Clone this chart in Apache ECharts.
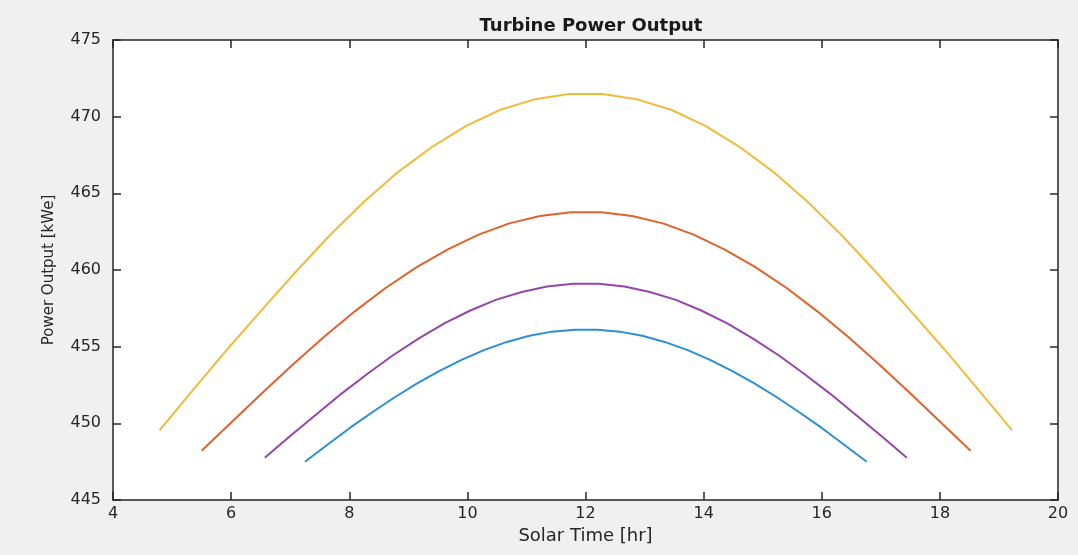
<!DOCTYPE html>
<html>
<head>
<meta charset="utf-8">
<script src="https://cdn.jsdelivr.net/npm/echarts@6/dist/echarts.min.js"></script>
<style>
html,body{margin:0;padding:0;background:#f0f0f0;}
#chart{width:1078px;height:555px;}
</style>
</head>
<body>
<div id="chart"></div>
<script>
// Solar time [hr] and power output [kWe], one pair of arrays per curve
var yellowX = [4.79,5.37,5.94,6.52,7.10,7.68,8.25,8.83,9.41,9.98,10.56,11.14,11.72,12.29,12.87,13.45,14.03,14.60,15.18,15.76,16.33,16.91,17.49,18.07,18.64,19.22];
var yellowY = [449.56,452.25,454.85,457.40,459.90,462.30,464.45,466.40,468.05,469.40,470.45,471.13,471.48,471.48,471.13,470.45,469.40,468.05,466.40,464.45,462.30,459.90,457.40,454.85,452.25,449.56];

var orangeX = [5.50,6.02,6.54,7.06,7.58,8.10,8.62,9.15,9.67,10.19,10.71,11.23,11.75,12.27,12.79,13.31,13.83,14.35,14.87,15.40,15.92,16.44,16.96,17.48,18.00,18.52];
var orangeY = [448.21,450.12,452.03,453.88,455.66,457.32,458.84,460.20,461.35,462.31,463.04,463.52,463.77,463.77,463.52,463.04,462.31,461.35,460.20,458.84,457.32,455.66,453.88,452.03,450.12,448.21];

var purpleX = [6.57,7.00,7.44,7.87,8.31,8.74,9.18,9.61,10.05,10.48,10.92,11.35,11.79,12.22,12.66,13.09,13.53,13.96,14.40,14.83,15.27,15.70,16.14,16.57,17.01,17.44];
var purpleY = [447.75,449.18,450.58,451.94,453.23,454.44,455.54,456.52,457.36,458.05,458.57,458.93,459.11,459.11,458.93,458.57,458.05,457.36,456.52,455.54,454.44,453.23,451.94,450.58,449.18,447.75];

var blueX = [7.25,7.63,8.01,8.39,8.77,9.15,9.53,9.91,10.29,10.67,11.05,11.43,11.82,12.20,12.58,12.96,13.34,13.72,14.10,14.48,14.86,15.24,15.62,16.00,16.38,16.76];
var blueY = [447.49,448.60,449.70,450.72,451.70,452.60,453.42,454.16,454.79,455.31,455.71,455.98,456.11,456.11,455.98,455.71,455.31,454.79,454.16,453.42,452.60,451.70,450.72,449.70,448.60,447.49];

var titleText = 'Turbine Power Output';
var xName = 'Solar Time [hr]';
var yName = 'Power Output [kWe]';

function pairs(xs, ys){ return xs.map(function(x,i){ return [x, ys[i]]; }); }

var FONT = 'DejaVu Sans';
var AX = '#262626';

var chart = echarts.init(document.getElementById('chart'), null, {renderer:'canvas'});
var lineSeries = function(name, xs, ys, color){
  return {
    name: name, type: 'line', data: pairs(xs, ys), showSymbol: false, symbol: 'none',
    smooth: false, lineStyle: {color: color, width: 2}, itemStyle: {color: color},
    xAxisIndex: 0, yAxisIndex: 0, animation: false, z: 3
  };
};

chart.setOption({
  backgroundColor: '#f0f0f0',
  animation: false,
  title: {
    text: titleText, left: 586, top: 12, textAlign: 'center',
    textStyle: {fontFamily: FONT, fontWeight: 'bold', fontSize: 18, color: '#1a1a1a'}
  },
  grid: {left: 113, right: 20, top: 40, bottom: 55, show: true, backgroundColor: '#ffffff', borderWidth: 0},
  xAxis: [{
    type: 'value', min: 4, max: 20, interval: 2, position: 'bottom',
    name: xName, nameLocation: 'middle', nameGap: 24,
    nameTextStyle: {fontFamily: FONT, fontSize: 18, color: AX},
    axisLine: {show: true, onZero: false, lineStyle: {color: AX, width: 1.5}},
    axisTick: {show: true, inside: true, length: 8, lineStyle: {color: AX, width: 1.5}},
    axisLabel: {fontFamily: FONT, fontSize: 16, color: AX, margin: 6},
    splitLine: {show: false}
  },{
    type: 'value', min: 4, max: 20, interval: 2, position: 'top',
    axisLine: {show: true, onZero: false, lineStyle: {color: AX, width: 1.5}},
    axisTick: {show: true, inside: true, length: 8, lineStyle: {color: AX, width: 1.5}},
    axisLabel: {show: false}, splitLine: {show: false}
  }],
  yAxis: [{
    type: 'value', min: 445, max: 475, interval: 5, position: 'left',
    name: yName, nameLocation: 'middle', nameGap: 56, nameRotate: 90,
    nameTextStyle: {fontFamily: FONT, fontSize: 15, color: AX},
    axisLine: {show: true, onZero: false, lineStyle: {color: AX, width: 1.5}},
    axisTick: {show: true, inside: true, length: 8, lineStyle: {color: AX, width: 1.5}},
    axisLabel: {fontFamily: FONT, fontSize: 16, color: AX, margin: 12},
    splitLine: {show: false}
  },{
    type: 'value', min: 445, max: 475, interval: 5, position: 'right',
    axisLine: {show: true, onZero: false, lineStyle: {color: AX, width: 1.5}},
    axisTick: {show: true, inside: true, length: 8, lineStyle: {color: AX, width: 1.5}},
    axisLabel: {show: false}, splitLine: {show: false}
  }],
  series: [
    lineSeries('blue', blueX, blueY, '#2b8ed6'),
    lineSeries('orange', orangeX, orangeY, '#e0622c'),
    lineSeries('yellow', yellowX, yellowY, '#f0bb3a'),
    lineSeries('purple', purpleX, purpleY, '#9446aa')
  ]
});
</script>
</body>
</html>
